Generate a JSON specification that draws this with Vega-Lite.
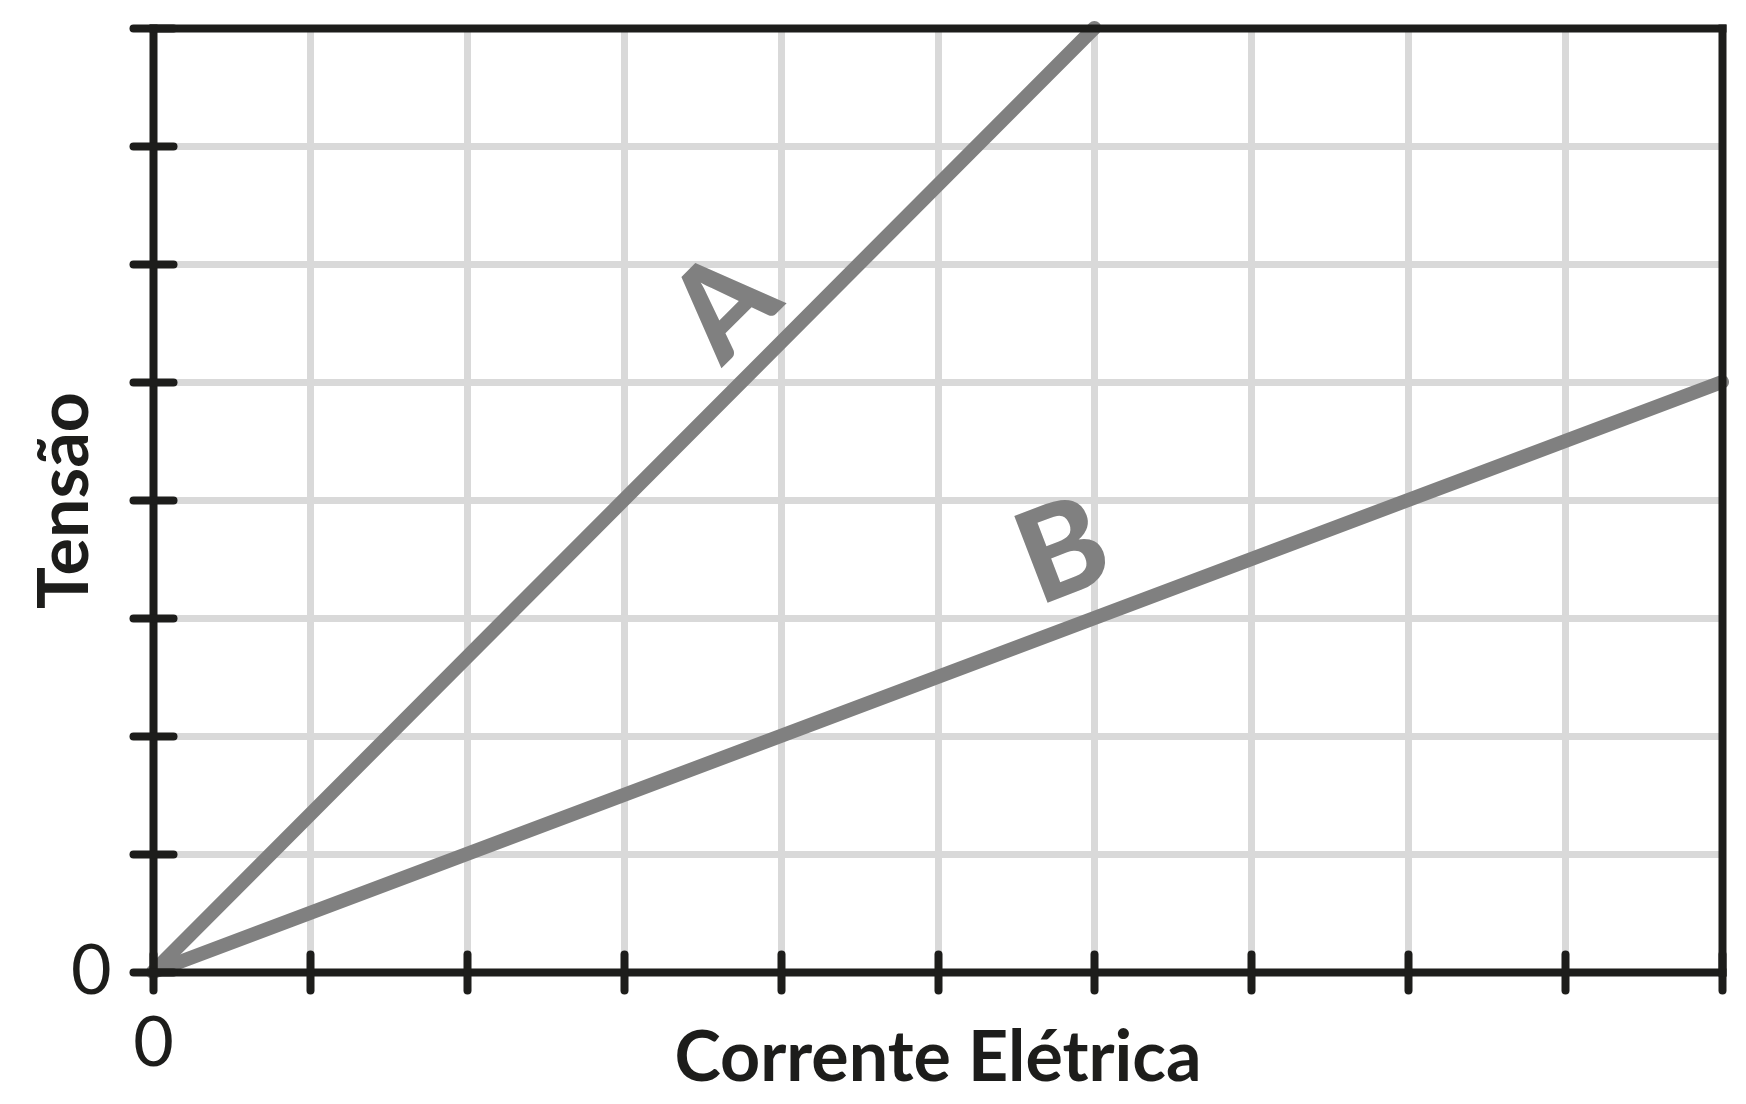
{
  "$schema": "https://vega.github.io/schema/vega-lite/v6.json",
  "width": 1569,
  "height": 944,
  "autosize": {"type": "none"},
  "padding": {"left": 153, "top": 28, "right": 24, "bottom": 132},
  "background": "white",
  "config": {
    "view": {"stroke": null},
    "axis": {
      "domainColor": "#1d1d1b",
      "domainWidth": 8,
      "domainCap": "square",
      "tickColor": "#1d1d1b",
      "tickWidth": 8,
      "tickCap": "round",
      "gridColor": "#d9d9d9",
      "gridWidth": 7,
      "labelFont": "Lato",
      "labelColor": "#1d1d1b",
      "titleFont": "Lato",
      "titleColor": "#1d1d1b"
    }
  },
  "datasets": {
    "linhaA": [
      {"serie": "A", "corrente": 0, "tensao": 0},
      {"serie": "A", "corrente": 6, "tensao": 8}
    ],
    "linhaB": [
      {"serie": "B", "corrente": 0, "tensao": 0},
      {"serie": "B", "corrente": 10, "tensao": 5}
    ],
    "rotuloA": [{"rotulo": "A", "corrente": 3.66, "tensao": 5.62}],
    "rotuloB": [{"rotulo": "B", "corrente": 5.81, "tensao": 3.53}]
  },
  "resolve": {"axis": {"x": "independent", "y": "independent"}},
  "layer": [
    {
      "data": {"name": "linhaA"},
      "mark": {"type": "line", "color": "#808080", "strokeWidth": 14, "strokeCap": "round"},
      "encoding": {
        "x": {
          "field": "corrente", "type": "quantitative",
          "scale": {"domain": [0, 10], "nice": false},
          "axis": {"orient": "bottom", "grid": true, "values": [0,1,2,3,4,5,6,7,8,9,10], "domain": false, "ticks": false, "labels": false, "title": null, "zindex": 0}
        },
        "y": {
          "field": "tensao", "type": "quantitative",
          "scale": {"domain": [0, 8], "nice": false},
          "axis": {"orient": "left", "grid": true, "values": [0,1,2,3,4,5,6,7,8], "domain": false, "ticks": false, "labels": false, "title": null, "zindex": 0}
        }
      }
    },
    {
      "data": {"name": "linhaB"},
      "mark": {"type": "line", "color": "#808080", "strokeWidth": 14, "strokeCap": "round"},
      "encoding": {
        "x": {
          "field": "corrente", "type": "quantitative",
          "axis": {"orient": "bottom", "grid": false, "domain": true, "ticks": false, "labels": false, "title": null, "zindex": 1}
        },
        "y": {
          "field": "tensao", "type": "quantitative",
          "axis": {"orient": "left", "grid": false, "domain": true, "ticks": false, "labels": false, "title": null, "zindex": 1}
        }
      }
    },
    {
      "data": {"name": "rotuloA"},
      "mark": {"type": "text", "color": "#808080", "font": "Lato", "fontWeight": 900, "fontSize": 128, "angle": -45, "align": "center", "baseline": "middle"},
      "encoding": {
        "text": {"field": "rotulo"},
        "x": {
          "field": "corrente", "type": "quantitative",
          "axis": {
            "orient": "bottom", "grid": false, "domain": false, "offset": -18,
            "values": [0,1,2,3,4,5,6,7,8,9,10],
            "ticks": true, "tickSize": 36,
            "labelExpr": "datum.value == 0 ? '0' : ''",
            "labelFontSize": 70, "labelPadding": 20, "labelOverlap": false, "labelFlush": false,
            "title": "Corrente Elétrica", "titleFontSize": 70, "titleFontWeight": "bold", "titlePadding": -54,
            "zindex": 1
          }
        },
        "y": {
          "field": "tensao", "type": "quantitative",
          "axis": {
            "orient": "left", "grid": false, "domain": false, "offset": -20,
            "values": [0,1,2,3,4,5,6,7,8],
            "ticks": true, "tickSize": 40,
            "labelExpr": "datum.value == 0 ? '0' : ''",
            "labelFontSize": 70, "labelPadding": 22, "labelOverlap": false, "labelFlush": false,
            "title": "Tensão", "titleFontSize": 70, "titleFontWeight": "bold", "titlePadding": -32,
            "zindex": 1
          }
        }
      }
    },
    {
      "data": {"name": "rotuloB"},
      "mark": {"type": "text", "color": "#808080", "font": "Lato", "fontWeight": 900, "fontSize": 128, "angle": -21, "align": "center", "baseline": "middle"},
      "encoding": {
        "text": {"field": "rotulo"},
        "x": {
          "field": "corrente", "type": "quantitative",
          "axis": {"orient": "top", "grid": false, "domain": true, "ticks": false, "labels": false, "title": null, "zindex": 1}
        },
        "y": {
          "field": "tensao", "type": "quantitative",
          "axis": {"orient": "right", "grid": false, "domain": true, "ticks": false, "labels": false, "title": null, "zindex": 1}
        }
      }
    }
  ]
}
